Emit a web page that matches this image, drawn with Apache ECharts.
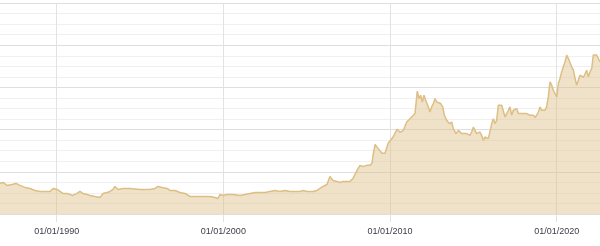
<!DOCTYPE html>
<html>
<head>
<meta charset="utf-8">
<script src="https://cdn.jsdelivr.net/npm/echarts@6/dist/echarts.min.js"></script>
<style>
html,body{margin:0;padding:0;background:#fff;}
#chart{width:600px;height:246px;}
</style>
</head>
<body>
<div id="chart"></div>
<script>
const dates = [
'1986-08-07','1986-10-12','1987-01-08','1987-04-26','1987-07-23','1987-10-19','1988-02-07','1988-05-25','1988-09-13','1989-01-01','1989-04-19','1989-08-07','1989-10-12',
'1990-01-08','1990-03-13','1990-05-18','1990-08-14','1990-10-19','1990-12-24','1991-03-20','1991-05-25','1991-07-30','1991-10-26','1992-01-01','1992-04-19','1992-08-07','1992-10-12','1993-01-08','1993-03-13','1993-05-18','1993-07-01','1993-09-06','1993-10-19','1993-12-24','1994-05-25',
'1995-01-01','1995-08-07','1995-11-25','1996-01-30','1996-04-26','1996-08-14','1996-10-19','1997-02-07','1997-05-25','1997-09-13','1998-01-01','1998-04-19','1998-08-07','1999-03-13','1999-07-01','1999-09-06','1999-10-19',
'2000-01-01','2000-03-20','2000-07-30','2001-01-01','2001-04-19','2001-08-07','2001-11-25','2002-03-13','2002-07-01','2002-10-19','2003-02-07','2003-05-25','2003-09-13','2004-01-01','2004-04-19','2004-08-07','2004-10-12',
'2005-01-08','2005-03-13','2005-05-18','2005-08-14','2005-10-19','2005-12-24','2006-03-20','2006-05-25','2006-07-30','2006-10-26','2007-01-01','2007-03-05','2007-06-02','2007-08-07','2007-10-12','2008-01-08','2008-03-13','2008-05-18','2008-08-14','2008-10-19','2008-12-02','2008-12-24','2009-02-07','2009-04-12','2009-07-08','2009-09-13','2009-11-20',
'2010-01-01','2010-03-05','2010-06-02','2010-08-07','2010-10-19','2011-01-01','2011-02-07','2011-04-19','2011-07-01','2011-08-21','2011-09-27','2011-11-03','2011-12-09','2012-01-15','2012-02-21','2012-04-05','2012-05-25','2012-07-01','2012-08-07','2012-09-13','2012-10-19','2012-11-25','2013-01-15','2013-02-28','2013-04-05','2013-05-25','2013-07-23','2013-09-13','2013-10-19','2013-12-16','2014-02-07','2014-03-13','2014-04-19','2014-05-25','2014-08-07','2014-10-19','2014-11-25',
'2015-01-01','2015-02-07','2015-03-13','2015-05-25','2015-07-01','2015-08-07','2015-09-13','2015-11-25','2016-01-01','2016-02-07','2016-03-13','2016-04-19','2016-05-25','2016-07-01','2016-08-07','2016-09-13','2016-10-19','2016-11-25','2017-01-01','2017-02-07','2017-03-13','2017-04-19','2017-05-25','2017-08-07','2017-09-13','2017-10-19','2018-01-01','2018-03-13','2018-05-25','2018-08-07','2018-09-13','2018-10-19','2018-11-25','2019-01-01','2019-02-07','2019-03-13','2019-04-19','2019-05-25','2019-07-01','2019-08-07','2019-09-13','2019-10-19','2019-11-25',
'2020-01-01','2020-02-07','2020-03-13','2020-04-19','2020-05-25','2020-07-01','2020-08-07','2020-09-13','2020-10-19','2020-11-25','2021-01-01','2021-02-07','2021-03-13','2021-04-19','2021-05-25','2021-07-01','2021-08-07','2021-09-13','2021-10-19','2021-11-25','2022-01-01','2022-02-07','2022-03-13','2022-04-19','2022-05-25','2022-07-01','2022-08-07'
];
const prices = [
290,299,271,280,290,271,252,242,223,214,214,214,242,
233,214,195,195,185,176,195,214,195,185,176,166,157,195,204,214,233,261,233,233,242,242,
233,233,242,261,252,242,223,223,204,195,166,166,166,166,157,147,185,
176,185,185,176,185,195,204,204,204,214,223,214,223,214,214,214,223,
214,214,214,223,242,261,280,356,318,309,299,309,309,309,337,413,461,451,461,461,480,556,660,622,575,575,670,
679,727,803,774,793,872,857,920,952,1165,1094,1126,1062,1126,1078,1031,967,1015,1047,1094,1062,1078,1047,1015,936,888,857,872,809,762,793,809,762,746,762,746,777,
825,793,762,777,746,698,730,714,730,857,904,857,888,1031,1015,1031,1015,920,952,983,1015,936,983,999,952,967,952,952,936,936,914,936,967,1015,983,999,983,1015,1110,1252,1221,1173,1142,
1110,1237,1284,1347,1395,1442,1506,1474,1458,1395,1363,1284,1221,1268,1316,1300,1294,1284,1363,1300,1347,1379,1506,1515,1506,1474,1442
];
const tickDates = ['1990-01-01','2000-01-01','2010-01-01','2020-01-01'];
const tickLabels = ['01/01/1990','01/01/2000','01/01/2010','01/01/2020'];
const xStart = '1986-08-07';
const xEnd = '2022-08-07';

const parseT = s => echarts.time.parse(s).getTime();
const tickValues = tickDates.map(parseT);
const seriesData = dates.map((d, i) => [parseT(d), prices[i]]);

const chart = echarts.init(document.getElementById('chart'), null, {renderer: 'canvas'});
chart.setOption({
  animation: false,
  grid: {left: 0, right: 0, top: 3, bottom: 32, containLabel: false},
  xAxis: {
    type: 'value',
    min: parseT(xStart),
    max: parseT(xEnd),
    axisLine: {show: false},
    axisTick: {show: true, length: 8, customValues: tickValues, lineStyle: {color: '#e2e2e2'}},
    axisLabel: {
      customValues: tickValues,
      margin: 13,
      fontSize: 9,
      fontFamily: 'Liberation Sans, Arial, sans-serif',
      color: '#3c3c46',
      formatter: function (v) {
        let best = 0;
        for (let i = 1; i < tickValues.length; i++) {
          if (Math.abs(tickValues[i] - v) < Math.abs(tickValues[best] - v)) best = i;
        }
        return tickLabels[best];
      }
    },
    splitLine: {show: true, lineStyle: {color: '#e2e2e2', width: 1}}
  },
  yAxis: {
    type: 'value',
    min: 0,
    max: 2000,
    interval: 400,
    axisLine: {show: false},
    axisTick: {show: false},
    axisLabel: {show: false},
    splitLine: {show: true, lineStyle: {color: '#dedede', width: 1}},
    minorTick: {show: false, splitNumber: 4},
    minorSplitLine: {show: true, lineStyle: {color: '#f0f0f0', width: 1}}
  },
  series: [{
    type: 'line',
    data: seriesData,
    showSymbol: false,
    smooth: false,
    lineStyle: {color: '#DDBF85', width: 1.5},
    itemStyle: {color: '#DDBF85'},
    areaStyle: {color: '#DDBF85', opacity: 0.45}
  }]
});
</script>
</body>
</html>
